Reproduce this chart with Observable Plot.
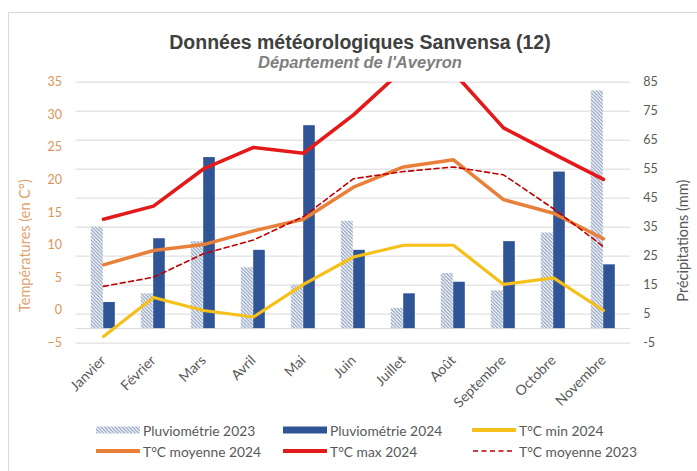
<!DOCTYPE html>
<html>
<head>
<meta charset="utf-8">
<script src="https://cdn.jsdelivr.net/npm/d3@7"></script>
<script src="https://cdn.jsdelivr.net/npm/@observablehq/plot@0.6"></script>
<style>
  html, body { margin: 0; padding: 0; background: #fff; }
  body { width: 697px; height: 471px; overflow: hidden; position: relative; font-family: Lato, "Open Sans", sans-serif; }
  #frame { position: absolute; left: 8px; top: 12px; width: 720px; height: 500px; border: 1px solid #D9D9D9; box-sizing: border-box; }
  #title { position: absolute; left: 60px; width: 600px; top: 30px; text-align: center; font: bold 19.5px "Liberation Sans", Arial, sans-serif; color: #404040; line-height: 24px; }
  #subtitle { position: absolute; left: 60px; width: 600px; top: 52px; text-align: center; font: italic bold 16.5px "Liberation Sans", Arial, sans-serif; color: #7F7F7F; line-height: 20px; }
  #chart { position: absolute; left: 0; top: 72px; }
  .leg { position: absolute; display: flex; align-items: center; font-size: 13.8px; color: #595959; height: 16px; white-space: nowrap; }
  .leg svg { margin-right: 3px; }
</style>
</head>
<body>
<div id="frame"></div>
<div id="title"></div>
<div id="subtitle"></div>
<div id="chart"></div>
<div id="legend"></div>
<script>
// ---- Data ----
const titleText = "Données météorologiques Sanvensa (12)";
const subtitleText = "Département de l'Aveyron";
const leftTitle = "Températures (en C°)";
const rightTitle = "Précipitations (mm)";
const months = ["Janvier", "Février", "Mars", "Avril", "Mai", "Juin", "Juillet", "Août", "Septembre", "Octobre", "Novembre"];
const pluvio2023 = [35, 12, 30, 21, 15, 37, 7, 19, 13, 33, 82];
const pluvio2024 = [9, 31, 59, 27, 70, 27, 12, 16, 30, 54, 22];
const tmin2024 = [-4, 2, 0, -1, 4, 8.2, 10, 10, 4, 5, 0];
const tmoy2024 = [7, 9.2, 10.1, 12.2, 14, 18.9, 22, 23.1, 17, 14.9, 11];
const tmax2024 = [14, 16, 21.7, 25, 24.1, 30, 37, 36.5, 28, 24, 20.1];
const tmoy2023 = [3.7, 5.1, 8.7, 10.8, 14.4, 20.2, 21.3, 22, 20.8, 15.6, 9.8];
const tempTicks = [-5, 0, 5, 10, 15, 20, 25, 30, 35];
const precipTicks = [-5, 5, 15, 25, 35, 45, 55, 65, 75, 85];
const legendLabels = ["Pluviométrie 2023", "Pluviométrie 2024", "T°C min 2024", "T°C moyenne 2024", "T°C max 2024", "T°C moyenne 2023"];

// ---- Styles ----
const C = {
  blue: "#2F5597", hatch: "#8499BA", yellow: "#F5C01A", orange: "#E9803A",
  red: "#E41A1A", dash: "#C00000", grid: "#D9D9D9",
  leftTxt: "#D9955A", leftTitle: "#E0A470", gray: "#595959"
};

document.getElementById("title").textContent = titleText;
document.getElementById("subtitle").textContent = subtitleText;

// Secondary axis (precipitation) mapped into the temperature scale
const tMin = -5, tMax = 35, pMin = -5, pMax = 85;
const toT = p => tMin + (p - pMin) * (tMax - tMin) / (pMax - pMin);
const fromT = t => pMin + (t - tMin) * (pMax - pMin) / (tMax - tMin);

const bars23 = months.map((m, i) => ({month: m, y1: toT(0), y2: toT(pluvio2023[i])}));
const bars24 = months.map((m, i) => ({month: m, y1: toT(0), y2: toT(pluvio2024[i])}));
const series = (arr) => months.map((m, i) => ({month: m, t: arr[i]}));

const H = 343;
const plot = Plot.plot({
  width: 697,
  height: H,
  marginLeft: 75.5,
  marginRight: 66.8,
  marginTop: 9.7,
  marginBottom: 72.4,
  style: {fontFamily: "Lato, 'Open Sans', sans-serif", fontSize: "12.5px", background: "transparent"},
  x: {domain: months, padding: 0, label: null},
  y: {domain: [tMin, tMax], label: null},
  marks: [
    Plot.ruleY(precipTicks.map(toT), {stroke: C.grid, strokeWidth: 1}),
    Plot.ruleY([toT(0)], {stroke: C.grid, strokeWidth: 1}),
    Plot.barY(bars23, {x: "month", y1: "y1", y2: "y2", fill: "url(#hatch23)", insetLeft: 12.8, insetRight: 25.2}),
    Plot.barY(bars24, {x: "month", y1: "y1", y2: "y2", fill: C.blue, insetLeft: 25.2, insetRight: 13.2}),
    Plot.line(series(tmin2024), {x: "month", y: "t", stroke: C.yellow, strokeWidth: 3.2, clip: true}),
    Plot.line(series(tmoy2024), {x: "month", y: "t", stroke: C.orange, strokeWidth: 3.5, clip: true}),
    Plot.line(series(tmax2024), {x: "month", y: "t", stroke: C.red, strokeWidth: 3.6, clip: true}),
    Plot.line(series(tmoy2023), {x: "month", y: "t", stroke: C.dash, strokeWidth: 1.6, strokeDasharray: "5,3.5", clip: true}),
    Plot.axisY(tempTicks, {anchor: "left", tickSize: 0, tickPadding: 14, fill: C.leftTxt, label: null, fontSize: 12.5}),
    Plot.axisY(precipTicks.map(toT), {anchor: "right", tickSize: 0, tickPadding: 12.5, fill: C.gray, label: null, tickFormat: t => String(Math.round(fromT(t))), fontSize: 12.5}),
    Plot.axisX({tickSize: 0, tickPadding: 15, tickRotate: -45, fill: C.gray, label: null, fontSize: 14}),
    Plot.text([leftTitle], {frameAnchor: "left", textAnchor: "middle", rotate: -90, dx: -51, dy: 33, fill: C.leftTitle, fontSize: 14.5}),
    Plot.text([rightTitle], {frameAnchor: "right", textAnchor: "middle", rotate: -90, dx: 53, dy: 28, fill: C.gray, fontSize: 14.5})
  ]
});

// hatch pattern definition
const svgNS = "http://www.w3.org/2000/svg";
function addHatch(svg, id) {
  const defs = document.createElementNS(svgNS, "defs");
  defs.innerHTML = `<pattern id="${id}" patternUnits="userSpaceOnUse" width="3.5" height="3.5">
    <rect width="3.5" height="3.5" fill="#ffffff"/>
    <path d="M-1,-1 L4.5,4.5 M2.5,-1 L4.5,1 M-1,2.5 L1,4.5" stroke="${C.hatch}" stroke-width="1.1"/>
  </pattern>`;
  svg.insertBefore(defs, svg.firstChild);
}
addHatch(plot, "hatch23");
document.getElementById("chart").appendChild(plot);

// ---- Legend ----
const legend = document.getElementById("legend");
const legendItems = [
  {label: legendLabels[0], x: 96, y: 430, kind: "hatch"},
  {label: legendLabels[1], x: 283, y: 430, kind: "rect", color: C.blue},
  {label: legendLabels[2], x: 472, y: 430, kind: "line", color: C.yellow, w: 4},
  {label: legendLabels[3], x: 96, y: 451, kind: "line", color: C.orange, w: 4},
  {label: legendLabels[4], x: 283, y: 451, kind: "line", color: C.red, w: 4},
  {label: legendLabels[5], x: 472, y: 451, kind: "dash", color: C.dash, w: 1.6}
];
legendItems.forEach((it, k) => {
  const div = document.createElement("div");
  div.className = "leg";
  div.style.left = it.x + "px";
  div.style.top = (it.y - 8) + "px";
  let sw = "";
  if (it.kind === "hatch") {
    sw = `<svg width="44" height="16"><defs><pattern id="hl${k}" patternUnits="userSpaceOnUse" width="3.5" height="3.5"><rect width="3.5" height="3.5" fill="#fff"/><path d="M-1,-1 L4.5,4.5 M2.5,-1 L4.5,1 M-1,2.5 L1,4.5" stroke="${C.hatch}" stroke-width="1.1"/></pattern></defs><rect x="0" y="4.5" width="44" height="7" fill="url(#hl${k})"/></svg>`;
  } else if (it.kind === "rect") {
    sw = `<svg width="44" height="16"><rect x="0" y="4.5" width="44" height="7" fill="${it.color}"/></svg>`;
  } else if (it.kind === "line") {
    sw = `<svg width="44" height="16"><line x1="1" x2="43" y1="8" y2="8" stroke="${it.color}" stroke-width="${it.w}" stroke-linecap="round"/></svg>`;
  } else {
    sw = `<svg width="44" height="16"><line x1="1" x2="43" y1="8" y2="8" stroke="${it.color}" stroke-width="${it.w}" stroke-dasharray="5,3.5"/></svg>`;
  }
  div.innerHTML = sw + `<span>${it.label}</span>`;
  legend.appendChild(div);
});
</script>
</body>
</html>
